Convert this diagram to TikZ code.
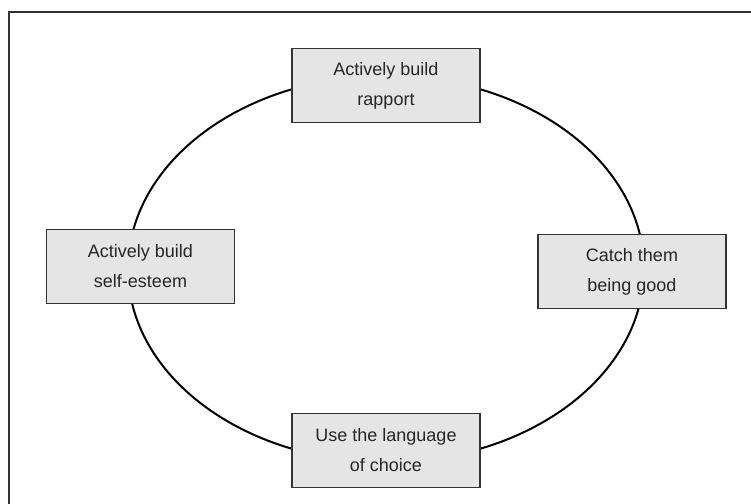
\documentclass[tikz,border=0pt]{standalone}
\usepackage{fontspec}
\setmainfont{Liberation Sans}
\usetikzlibrary{positioning}

\begin{document}
\begin{tikzpicture}[x=0.75pt, y=-0.75pt,
        tipbox/.style={draw=black!80, line width=0.9pt, fill=black!10,
            minimum width=141pt, minimum height=56pt, align=center,
            inner sep=0pt, text=black!85,
            font=\fontsize{13.5pt}{22.5pt}\selectfont},
        cycle/.style={line width=1.5pt}]
        \useasboundingbox (0,0) rectangle (751,504);
        % page frame
        \draw[black!80, line width=1.1pt] (751,12) -- (9,12) -- (9,504);
        % the cycle
        \draw[cycle] (386,269) ellipse [x radius=258, y radius=193];
        \node[tipbox] (rapport) at (386,85.5) {Actively build\\rapport};
        \node[tipbox] (good) at (632,271.5) {Catch them\\being good};
        \node[tipbox] (choice) at (386,450.5) {Use the language\\of choice};
        \node[tipbox] (esteem) at (140.5,266.5) {Actively build\\self-esteem};
    \end{tikzpicture}
\end{document}
